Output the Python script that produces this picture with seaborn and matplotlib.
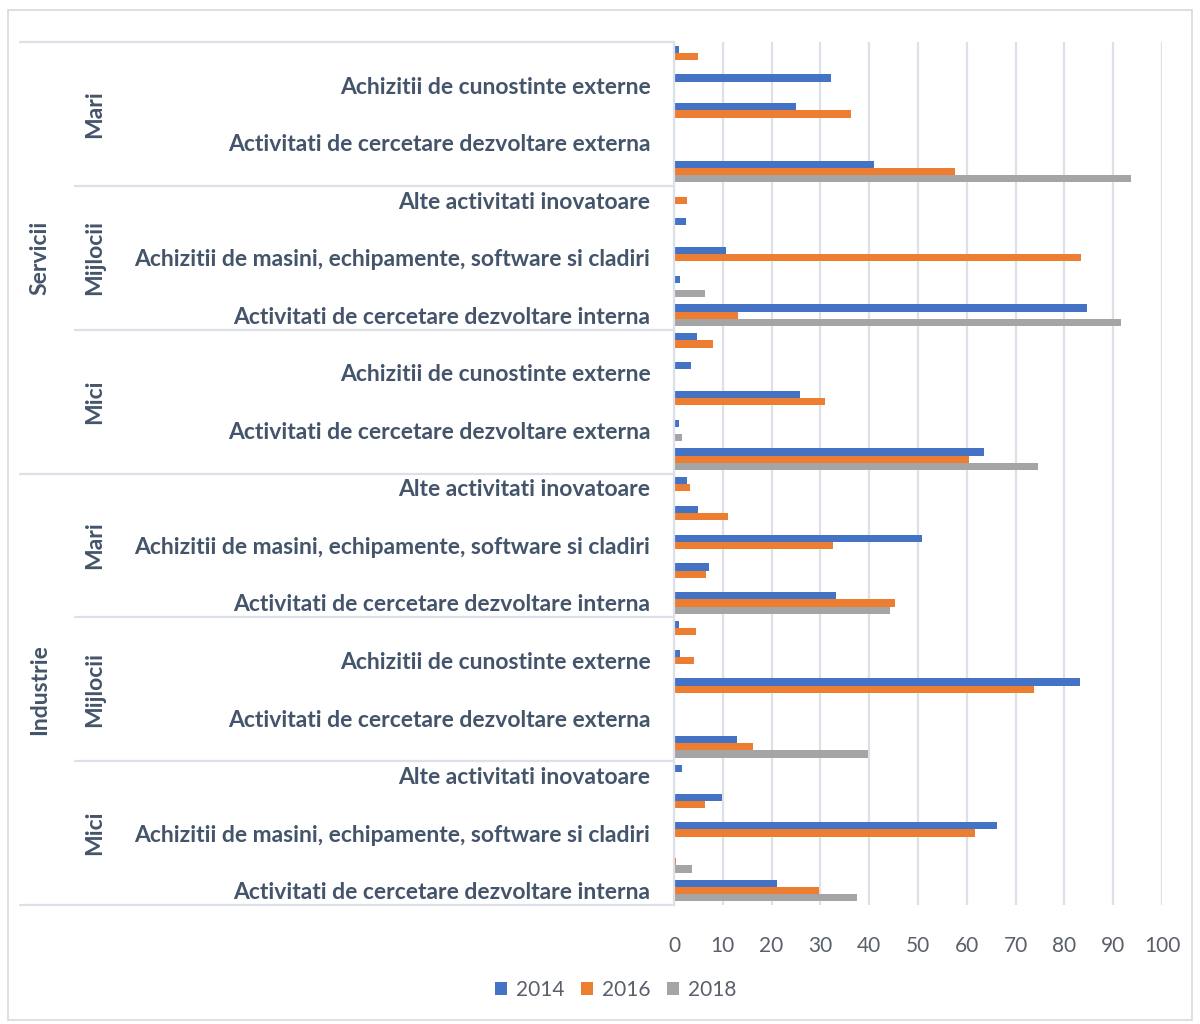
import numpy as np
import pandas as pd
import seaborn as sns
import matplotlib.pyplot as plt
from matplotlib.patches import Patch, Rectangle
from matplotlib.transforms import blended_transform_factory

sectors = ['Industrie', 'Servicii']
sizes = ['Mici', 'Mijlocii', 'Mari']
activities = ['Activitati de cercetare dezvoltare interna',
              'Activitati de cercetare dezvoltare externa',
              'Achizitii de masini, echipamente, software si cladiri',
              'Achizitii de cunostinte externe',
              'Alte activitati inovatoare']
years = ['2014', '2016', '2018']
colors = ['#4472C4', '#ED7D31', '#A5A5A5']

# blocks: Industrie Mici, Mijlocii, Mari, Servicii Mici, Mijlocii, Mari
# inside each block: interna, externa, masini, cunostinte, alte
v2014 = [21.2, 0, 66.1, 9.8, 1.6,
         13.0, 0, 83.1, 1.3, 1.0,
         33.1, 7.1, 50.8, 5.0, 2.6,
         63.5, 1.0, 25.9, 3.4, 4.8,
         84.7, 1.3, 10.6, 2.4, 0,
         41.0, 0, 24.9, 32.1, 1.0]
v2016 = [29.7, 0.5, 61.7, 6.4, 0.3,
         16.2, 0.3, 73.8, 4.0, 4.5,
         45.2, 6.6, 32.5, 11.1, 3.2,
         60.5, 0, 31.0, 0, 7.9,
         13.2, 0, 83.3, 0, 2.6,
         57.5, 0, 36.3, 0, 5.0]
v2018 = [37.6, 3.7, 0, 0, 0,
         39.7, 0, 0, 0, 0,
         44.2, 0, 0, 0, 0,
         74.6, 1.6, 0, 0, 0,
         91.6, 6.4, 0, 0, 0,
         93.7, 0, 0, 0, 0]

keys = []
for s in sectors:
    for z in sizes:
        for a in activities:
            keys.append(s + '|' + z + '|' + a)

rows = []
for yr, vals in zip(years, [v2014, v2016, v2018]):
    for k, v in zip(keys, vals):
        rows.append({'key': k, 'year': yr, 'value': v})
df = pd.DataFrame(rows)

sns.set_style('white')
plt.rcParams['font.family'] = ['Lato', 'DejaVu Sans']

txt_col = '#44546A'
grid_col = '#DCE0E8'
lab_size = 16.5

fig = plt.figure(figsize=(12, 10.24), dpi=100)
ax = fig.add_axes([674/1200, 1-905/1024, 488/1200, (905-42)/1024])

order = keys[::-1]
sns.barplot(data=df, x='value', y='key', hue='year', order=order, hue_order=years,
            palette=colors, width=0.75, orient='h', ax=ax, legend=False,
            saturation=1, edgecolor='none')

ax.set_xlim(0, 100)
ax.set_ylim(29.5, -0.5)
ax.set_xticks(range(0, 101, 10))
ax.xaxis.grid(True, color=grid_col, lw=1.6)
ax.set_axisbelow(True)
ax.set_xlabel('')
ax.set_ylabel('')

labels = []
for j, k in enumerate(order):
    i = 29 - j
    labels.append(k.split('|')[2] if i % 2 == 0 else '')
ax.set_yticks(range(30))
ax.set_yticklabels(labels, fontsize=lab_size, fontweight='bold', color=txt_col)
ax.tick_params(axis='y', length=0, pad=17)
ax.tick_params(axis='x', length=0, pad=22, labelsize=15, labelcolor='#595F6B')

for sp in ['top', 'right', 'bottom']:
    ax.spines[sp].set_visible(False)
ax.spines['left'].set_color(grid_col)
ax.spines['left'].set_linewidth(1.6)

# multi-level category table on the left
tr = blended_transform_factory(fig.transFigure, ax.transData)
x_end = 674/1200
for y, x0 in [(-0.5, 20), (4.5, 75), (9.5, 75), (14.5, 20), (19.5, 75), (24.5, 75), (29.5, 20)]:
    ax.plot([x0/1200, x_end], [y, y], transform=tr, color=grid_col, lw=1.6, clip_on=False)

for si, s in enumerate(sectors):
    jc = 29 - (si*15 + 7)
    ax.text(40/1200, jc, s, transform=tr, rotation=90, ha='center', va='center',
            fontsize=lab_size, fontweight='bold', color=txt_col)
    for zi, z in enumerate(sizes):
        jc = 29 - (si*15 + zi*5 + 2)
        ax.text(95/1200, jc, z, transform=tr, rotation=90, ha='center', va='center',
                fontsize=lab_size, fontweight='bold', color=txt_col)

handles = [Patch(facecolor=c, edgecolor='none') for c in colors]
fig.legend(handles, years, loc='center', bbox_to_anchor=(0.513, 1-990/1024), ncol=3,
           frameon=False, fontsize=15, handlelength=0.6, handleheight=0.6,
           handletextpad=0.4, columnspacing=0.8, labelcolor='#595F6B')

fig.patches.append(Rectangle((8/1200, 4/1024), 1184/1200, 1010/1024, transform=fig.transFigure,
                             fill=False, edgecolor='#D9D9D9', lw=1.2))

fig.savefig('out.png', dpi=100)
